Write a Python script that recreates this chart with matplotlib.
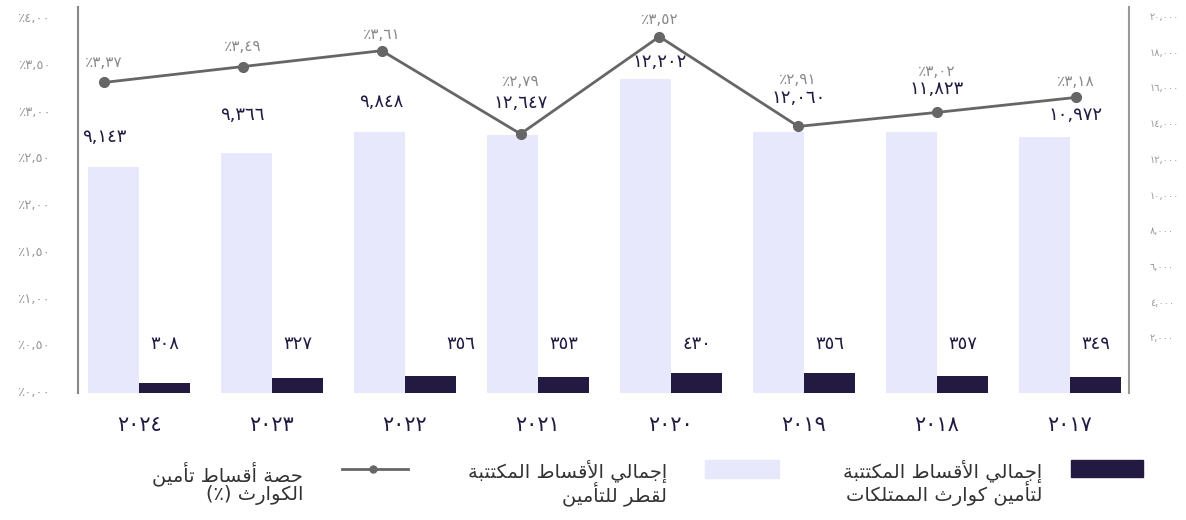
import numpy as np
import matplotlib
matplotlib.use('Agg')
import matplotlib.pyplot as plt
from matplotlib.patches import Rectangle
from matplotlib.lines import Line2D

plt.rcParams['font.family'] = ['DejaVu Sans']

# ---- data ----
years = ['٢٠٢٤', '٢٠٢٣', '٢٠٢٢', '٢٠٢١', '٢٠٢٠', '٢٠١٩', '٢٠١٨', '٢٠١٧']
# bar heights as drawn (the light/dark bars share one hidden scale)
total_premiums = [12650, 13410, 14600, 14440, 17570, 14620, 14600, 14340]
cat_premiums = [560, 840, 970, 895, 1120, 1120, 970, 895]
# line as drawn against the left (%) axis
cat_share = [3.30, 3.47, 3.64, 2.75, 3.79, 2.83, 2.98, 3.14]

total_labels = ['٩,١٤٣', '٩,٣٦٦', '٩,٨٤٨', '١٢,٦٤٧', '١٢,٢٠٢', '١٢,٠٦٠', '١١,٨٢٣', '١٠,٩٧٢']
cat_labels = ['٣٠٨', '٣٢٧', '٣٥٦', '٣٥٣', '٤٣٠', '٣٥٦', '٣٥٧', '٣٤٩']
share_labels = ['٪٣,٣٧', '٪٣,٤٩', '٪٣,٦١', '٪٢,٧٩', '٪٣,٥٢', '٪٢,٩١', '٪٣,٠٢', '٪٣,١٨']

left_ticks = [0, 0.5, 1.0, 1.5, 2.0, 2.5, 3.0, 3.5, 4.0]
left_ticklabels = ['٪٠,٠٠', '٪٠,٥٠', '٪١,٠٠', '٪١,٥٠', '٪٢,٠٠', '٪٢,٥٠', '٪٣,٠٠', '٪٣,٥٠', '٪٤,٠٠']
right_ticks = [2000, 4000, 6000, 8000, 10000, 12000, 14000, 16000, 18000, 20000]
right_ticklabels = ['٢,٠٠٠', '٤,٠٠٠', '٦,٠٠٠', '٨,٠٠٠', '١٠,٠٠٠', '١٢,٠٠٠', '١٤,٠٠٠', '١٦,٠٠٠', '١٨,٠٠٠', '٢٠,٠٠٠']

legend_dark = 'إجمالي الأقساط المكتتبة\nلتأمين كوارث الممتلكات'
legend_light = 'إجمالي الأقساط المكتتبة\nلقطر للتأمين'
legend_line = 'حصة أقساط تأمين\nالكوارث (٪)'

# label placement (layout only)
share_label_y = [3.51, 3.68, 3.81, 3.31, 3.97, 3.33, 3.42, 3.31]
total_label_y = [2.72, 2.95, 3.09, 3.08, 3.52, 3.13, 3.23, 2.95]
cat_label_dx = [0, 0, 0.23, 0, 0, 0, 0, 0]

LIGHT = '#e8e8fc'
DARK = '#231a42'
GREY = '#666666'


# ---- minimal Arabic shaping (matplotlib has no RTL/joining support) ----
FORMS = {
    'ا': (0xFE8D, 0xFE8E, None, None), 'أ': (0xFE83, 0xFE84, None, None),
    'إ': (0xFE87, 0xFE88, None, None), 'ة': (0xFE93, 0xFE94, None, None),
    'ر': (0xFEAD, 0xFEAE, None, None), 'و': (0xFEED, 0xFEEE, None, None),
    'ب': (0xFE8F, 0xFE90, 0xFE91, 0xFE92), 'ت': (0xFE95, 0xFE96, 0xFE97, 0xFE98),
    'ث': (0xFE99, 0xFE9A, 0xFE9B, 0xFE9C), 'ج': (0xFE9D, 0xFE9E, 0xFE9F, 0xFEA0),
    'ح': (0xFEA1, 0xFEA2, 0xFEA3, 0xFEA4), 'س': (0xFEB1, 0xFEB2, 0xFEB3, 0xFEB4),
    'ص': (0xFEB9, 0xFEBA, 0xFEBB, 0xFEBC), 'ط': (0xFEC1, 0xFEC2, 0xFEC3, 0xFEC4),
    'ق': (0xFED5, 0xFED6, 0xFED7, 0xFED8), 'ك': (0xFED9, 0xFEDA, 0xFEDB, 0xFEDC),
    'ل': (0xFEDD, 0xFEDE, 0xFEDF, 0xFEE0), 'م': (0xFEE1, 0xFEE2, 0xFEE3, 0xFEE4),
    'ن': (0xFEE5, 0xFEE6, 0xFEE7, 0xFEE8), 'ي': (0xFEF1, 0xFEF2, 0xFEF3, 0xFEF4),
}
LAM_ALEF = {'ا': (0xFEFB, 0xFEFC), 'أ': (0xFEF7, 0xFEF8), 'إ': (0xFEF9, 0xFEFA)}


def shape_line(text):
    out = []
    prev_join = False
    i = 0
    while i < len(text):
        c = text[i]
        nxt = text[i + 1] if i + 1 < len(text) else ''
        if c == 'ل' and nxt in LAM_ALEF:
            iso, fin = LAM_ALEF[nxt]
            out.append(chr(fin if prev_join else iso))
            prev_join = False
            i += 2
            continue
        if c in FORMS:
            iso, fin, ini, med = FORMS[c]
            next_join = ini is not None and nxt in FORMS
            if prev_join and next_join:
                g = med
            elif prev_join:
                g = fin
            elif next_join:
                g = ini
            else:
                g = iso
            out.append(chr(g))
            prev_join = ini is not None
        else:
            out.append(c)
            prev_join = False
        i += 1
    s = ''.join(out)[::-1]
    return s.translate(str.maketrans('()', ')('))


def shape(text):
    return '\n'.join(shape_line(t) for t in text.split('\n'))


# ---- figure ----
W, H = 1186, 520
fig = plt.figure(figsize=(W / 100, H / 100), dpi=100)
rect = [78 / W, 1 - 393 / H, (1129 - 78) / W, (393 - 7) / H]

n = len(years)
x = np.arange(n)
w = 0.383

# bars
ax_bar = fig.add_axes(rect)
ax_bar.bar(x - w / 2, total_premiums, w, color=LIGHT, zorder=1)
ax_bar.bar(x + w / 2, cat_premiums, w, color=DARK, zorder=2)
ax_bar.set_xlim(-0.459, 7.444)
ax_bar.set_ylim(0, 21600)
ax_bar.set_yticks([])
ax_bar.set_xticks(x)
ax_bar.set_xticklabels(years, fontsize=15, color=DARK)
ax_bar.tick_params(axis='x', length=0, pad=16)
for s in ax_bar.spines.values():
    s.set_visible(False)
for i in range(n):
    ax_bar.text(x[i] + w / 2 + cat_label_dx[i], 0.127, cat_labels[i],
                transform=ax_bar.get_xaxis_transform(), ha='center', va='center',
                fontsize=13, color=DARK)

# right axis (ticks only)
ax_r = fig.add_axes(rect)
ax_r.patch.set_visible(False)
ax_r.set_ylim(-1120, 20504)
ax_r.yaxis.tick_right()
ax_r.set_yticks(right_ticks)
ax_r.set_yticklabels(right_ticklabels, fontsize=7, color='#999999')
ax_r.tick_params(axis='y', length=0, pad=15)
ax_r.set_xticks([])
for k, s in ax_r.spines.items():
    s.set_visible(k == 'right')
ax_r.spines['right'].set_color('#999999')
ax_r.spines['right'].set_linewidth(1.5)

# line + left axis
ax = fig.add_axes(rect)
ax.patch.set_visible(False)
ax.plot(x, cat_share, color=GREY, lw=2, marker='o', ms=7, zorder=3)
ax.set_xlim(-0.187, 7.382)
ax.set_ylim(-0.021, 4.107)
ax.set_yticks(left_ticks)
ax.set_yticklabels(left_ticklabels, fontsize=9.5, color='#999999')
ax.tick_params(axis='y', length=0, pad=20)
ax.set_xticks([])
for k, s in ax.spines.items():
    s.set_visible(k == 'left')
ax.spines['left'].set_color('#888888')
ax.spines['left'].set_linewidth(1.5)
for i in range(n):
    ax.text(x[i], share_label_y[i], share_labels[i], ha='center', va='center',
            fontsize=11, color='#8a8a8a')
    ax.text(x[i], total_label_y[i], total_labels[i], ha='center', va='center',
            fontsize=13, color=DARK)

# legend (right to left)
def fx(px):
    return px / W


def fy(py):
    return 1 - py / H


fig.add_artist(Rectangle((fx(1071), fy(477)), fx(1143) - fx(1071), fy(460) - fy(477),
                         transform=fig.transFigure, color=DARK))
fig.text(fx(1042), fy(483), shape(legend_dark), ha='right', va='center',
         multialignment='right', fontsize=14, color='#333333', linespacing=0.9)
fig.add_artist(Rectangle((fx(705), fy(478)), fx(779) - fx(705), fy(460) - fy(478),
                         transform=fig.transFigure, color=LIGHT))
fig.text(fx(667), fy(483), shape(legend_light), ha='right', va='center',
         multialignment='right', fontsize=14, color='#333333', linespacing=0.9)
fig.add_artist(Line2D([fx(342), fx(408)], [fy(469), fy(469)], transform=fig.transFigure,
                      color=GREY, lw=2))
fig.add_artist(Line2D([fx(373)], [fy(469)], transform=fig.transFigure,
                      color=GREY, marker='o', ms=5))
fig.text(fx(303), fy(483), shape(legend_line), ha='right', va='center',
         multialignment='right', fontsize=14, color='#333333', linespacing=0.9)

fig.savefig('out.png', dpi=100)
